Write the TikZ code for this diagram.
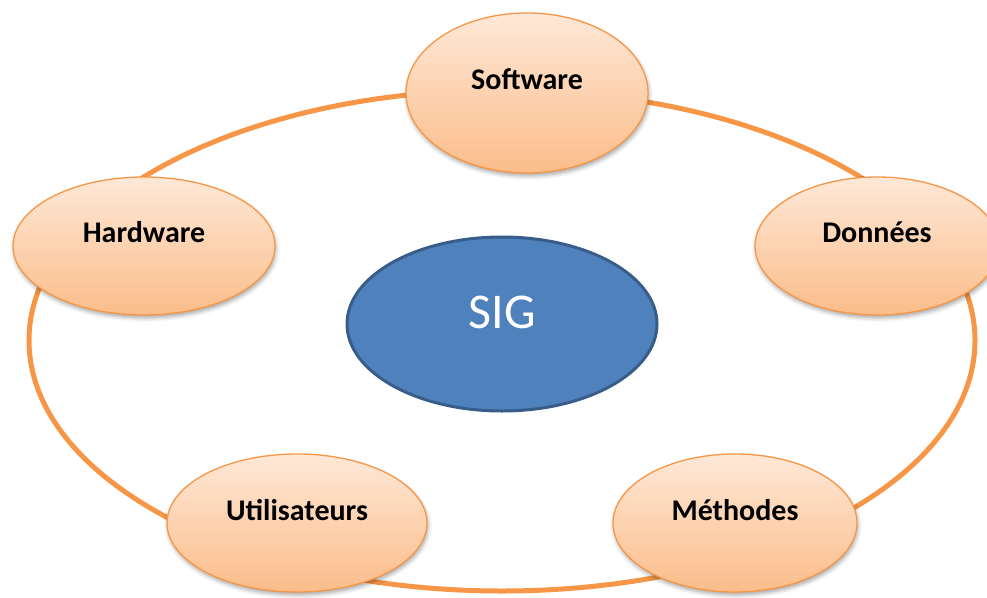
\documentclass[tikz,border=0pt]{standalone}
\usepackage{fontspec}
\setmainfont{Carlito}
\usetikzlibrary{shapes.geometric,shadows.blur}
\definecolor{ringorange}{HTML}{F79646}
\definecolor{peachtop}{HTML}{FEE8D7}
\definecolor{peachbot}{HTML}{FBBD8A}
\definecolor{sigfill}{HTML}{4F81BD}
\definecolor{sigdraw}{HTML}{385D8A}
\tikzset{
  part/.style={ellipse, draw=ringorange, line width=1.3pt, inner sep=0pt,
    top color=peachtop, bottom color=peachbot,
    font=\bfseries\fontsize{30}{36}\selectfont, text=black,
    blur shadow={shadow xshift=1pt, shadow yshift=-3pt, shadow blur radius=4pt, shadow opacity=35}},
  core/.style={ellipse, draw=sigdraw, line width=3pt, fill=sigfill, inner sep=0pt,
    font=\fontsize{50}{60}\selectfont, text=white},
  ring/.style={draw=ringorange, line width=5pt}
}
\begin{document}
\begin{tikzpicture}[x=1pt,y=-1pt]
\useasboundingbox (0,0) rectangle (987,597);
\coordinate (ringc) at (502,340.5);
\draw[ring] (ringc) ellipse [x radius=473, y radius=250.5];
\node[part, minimum width=242pt, minimum height=160pt] (soft) at (527,93) {\raisebox{27pt}{Software}};
\node[part, minimum width=262pt, minimum height=138pt] (hard) at (144,246) {\raisebox{28pt}{Hardware}};
\node[part, minimum width=244pt, minimum height=138pt] (don) at (877,246) {\raisebox{28pt}{Données}};
\node[part, minimum width=260pt, minimum height=138pt] (util) at (297,523) {\raisebox{27pt}{Utilisateurs}};
\node[part, minimum width=244pt, minimum height=138pt] (meth) at (735,523) {\raisebox{27pt}{Méthodes}};
\node[core, minimum width=310pt, minimum height=174pt] (sig) at (502,324) {\raisebox{24pt}{SIG}};
\end{tikzpicture}
\end{document}
